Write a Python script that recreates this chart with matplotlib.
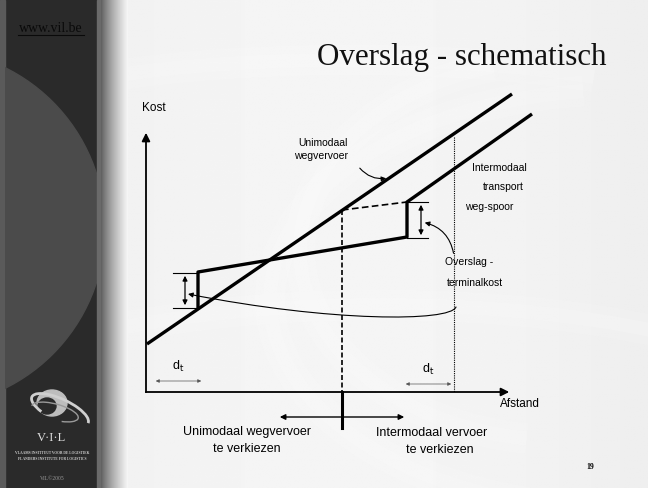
import matplotlib.pyplot as plt
import numpy as np
from matplotlib.patches import Rectangle, Ellipse, FancyArrowPatch, Arc
from matplotlib.path import Path

# schematic, in slide pixels (y downward)
uni_x = [147, 512]
uni_y = [344, 94]
inter_x = [198, 198, 407, 407, 532]
inter_y = [309, 272, 237, 202, 114]
dash_x = [342, 407]
dash_y = [210, 202]
split_x = 342
split_top = 210
dotted_x = 454
dotted_top = 137
axis_x0, axis_y0 = 146, 392
axis_x1, axis_y1 = 512, 130

sans = 'Liberation Sans'
serif = 'Liberation Serif'

fig = plt.figure(figsize=(6.48, 4.88), dpi=100)
fig.patch.set_facecolor('#efefef')
ax = fig.add_axes([0, 0, 1, 1])
ax.set_xlim(0, 648)
ax.set_ylim(488, 0)
ax.axis('off')

# background swooshes
grad = np.linspace(0, 1, 200)
bg = np.outer(np.ones(200), 0.93 + 0.03 * np.sin(grad * 3))
ax.imshow(bg, cmap='gray', vmin=0, vmax=1, extent=[0, 648, 488, 0], aspect='auto', zorder=0)
for cx, cy, w, h, a1, a2 in [(620, 300, 700, 420, 90, 260), (560, 250, 520, 380, 100, 250),
                             (380, 430, 900, 250, 180, 360), (350, 120, 700, 120, 190, 350)]:
    for lw, al in [(22, 0.12), (10, 0.15)]:
        ax.add_patch(Arc((cx, cy), w, h, theta1=a1, theta2=a2, color='white', lw=lw, alpha=al, zorder=1))

# sidebar
ax.add_patch(Rectangle((0, 0), 101, 488, color='#2a2a2a', zorder=2))
ax.add_patch(Rectangle((0, 0), 5, 488, color='#5a5a5a', zorder=3))
side = Rectangle((5, 0), 96, 488, transform=ax.transData)
ell = Ellipse((-75, 228), 360, 358, color='#4b4b4b', zorder=3)
ax.add_patch(ell)
ell.set_clip_path(side)
ax.add_patch(Rectangle((97, 0), 4, 488, color='#6a6a6a', zorder=4))
shade = np.tile(np.linspace(0.2, 0.94, 40) ** 0.6, (10, 1))
ax.imshow(shade, cmap='gray', vmin=0, vmax=1, extent=[101, 128, 488, 0], aspect='auto', zorder=4)

ax.text(51, 29, 'www.vil.be', family=serif, fontsize=10, color='#0a0a0a', ha='center', va='center', zorder=5)
ax.plot([18, 84], [35, 35], color='#0a0a0a', lw=0.8, zorder=5)

# logo
ax.add_patch(Ellipse((52, 403), 30, 26, color='#bdbdbd', zorder=5))
ax.add_patch(Ellipse((47, 406), 18, 16, color='#2a2a2a', zorder=5))
ax.add_patch(Arc((60, 410), 62, 22, angle=25, theta1=150, theta2=360, color='#cfcfcf', lw=2, zorder=6))
ax.add_patch(Arc((55, 412), 48, 16, angle=15, theta1=180, theta2=400, color='#9a9a9a', lw=1, zorder=6))
ax.text(51, 438, 'V·I·L', family=serif, fontsize=9, color='#e0e0e0', ha='center', va='center', zorder=6)
ax.text(52, 453, 'VLAAMS INSTITUUT VOOR DE LOGISTIEK', family=serif, fontsize=2.6, weight='bold',
        color='#d0d0d0', ha='center', va='center', zorder=6)
ax.text(52, 459, 'FLANDERS INSTITUTE FOR LOGISTICS', family=serif, fontsize=2.6, weight='bold',
        color='#d0d0d0', ha='center', va='center', zorder=6)
ax.text(52, 479, 'VIL©2005', family=serif, fontsize=4, color='#9a9a9a', ha='center', va='center', zorder=6)

# title
ax.text(462, 58, 'Overslag - schematisch', family=serif, fontsize=22.3, color='#111111',
        ha='center', va='center', zorder=6)

# axes
ax.plot([axis_x0, axis_x0], [axis_y0, axis_y1 + 8], color='black', lw=1.3, zorder=6)
ax.plot([axis_x0, axis_x1 - 6], [axis_y0, axis_y0], color='black', lw=1.3, zorder=6)
ax.add_patch(FancyArrowPatch((axis_x0, axis_y1 + 12), (axis_x0, axis_y1), arrowstyle='-|>',
                             mutation_scale=12, color='black', lw=1.3, zorder=6))
ax.add_patch(FancyArrowPatch((axis_x1 - 10, axis_y0), (axis_x1, axis_y0), arrowstyle='-|>',
                             mutation_scale=12, color='black', lw=1.3, zorder=6))
ax.text(142, 108, 'Kost', family=sans, fontsize=8.5, ha='left', va='center', zorder=6)
ax.text(500, 404, 'Afstand', family=sans, fontsize=8.5, ha='left', va='center', zorder=6)

# cost lines
ax.plot(uni_x, uni_y, color='black', lw=2.4, solid_capstyle='butt', zorder=7)
ax.plot(inter_x, inter_y, color='black', lw=2.4, solid_capstyle='butt', zorder=7)
ax.plot(dash_x, dash_y, color='black', lw=1.2, ls=(0, (4, 2)), zorder=7)
ax.plot([split_x, split_x], [split_top, axis_y0], color='black', lw=1.2, ls=(0, (3, 1.5)), zorder=7)
ax.plot([split_x, split_x], [axis_y0, 428], color='black', lw=2.2, zorder=7)
ax.plot([dotted_x, dotted_x], [dotted_top, axis_y0], color='black', lw=0.8, ls=(0, (1, 1)), zorder=7)

# terminal cost double arrows
for xa, xt0, xt1, y0, y1 in [(185, 173, 198, 273, 308), (421, 407, 428, 202, 238)]:
    ax.plot([xt0, xt1], [y0, y0], color='black', lw=0.8, zorder=7)
    ax.plot([xt0, xt1], [y1, y1], color='black', lw=0.8, zorder=7)
    ax.add_patch(FancyArrowPatch((xa, y0), (xa, y1), arrowstyle='<|-|>', mutation_scale=7,
                                 color='black', lw=0.9, zorder=7))

# callouts
ax.text(323, 143, 'Unimodaal', family=sans, fontsize=7.5, ha='center', va='center', zorder=7)
ax.text(321, 156, 'wegvervoer', family=sans, fontsize=7.5, ha='center', va='center', zorder=7)
ax.add_patch(FancyArrowPatch((358, 166), (389, 178), connectionstyle='arc3,rad=0.3', arrowstyle='-|>',
                             mutation_scale=7, color='black', lw=0.8, zorder=7))
ax.text(472, 168, 'Intermodaal', family=sans, fontsize=7.5, ha='left', va='center', zorder=7)
ax.text(483, 187, 'transport', family=sans, fontsize=7.5, ha='left', va='center', zorder=7)
ax.text(465, 207, 'weg-spoor', family=sans, fontsize=7.5, ha='left', va='center', zorder=7)
ax.text(445, 262, 'Overslag -', family=sans, fontsize=7.5, ha='left', va='center', zorder=7)
ax.text(447, 283, 'terminalkost', family=sans, fontsize=7.5, ha='left', va='center', zorder=7)
ax.add_patch(FancyArrowPatch((454, 256), (422, 222), connectionstyle='arc3,rad=0.35', arrowstyle='-|>',
                             mutation_scale=7, color='black', lw=0.8, zorder=7))
curve = Path([(456, 307), (450, 322), (330, 322), (188, 294)],
             [Path.MOVETO, Path.CURVE4, Path.CURVE4, Path.CURVE4])
ax.add_patch(FancyArrowPatch(path=curve, arrowstyle='-|>', mutation_scale=7, color='black', lw=0.8, zorder=7))

# d_t
ax.text(172, 366, r'd$_\mathrm{t}$', family=sans, fontsize=9, ha='left', va='center', zorder=7)
ax.text(422, 369, r'd$_\mathrm{t}$', family=sans, fontsize=9, ha='left', va='center', zorder=7)
for x0, x1, y in [(153, 204, 381), (403, 454, 384)]:
    ax.add_patch(FancyArrowPatch((x0, y), (x1, y), arrowstyle='<|-|>', mutation_scale=5,
                                 color='#555555', lw=0.5, zorder=7))

# preference arrows
ax.add_patch(FancyArrowPatch((277, 417), (407, 417), arrowstyle='<|-|>', mutation_scale=8,
                             color='black', lw=1.0, zorder=7))
ax.text(247, 432, 'Unimodaal wegvervoer', family=sans, fontsize=9, ha='center', va='center', zorder=7)
ax.text(247, 449, 'te verkiezen', family=sans, fontsize=9, ha='center', va='center', zorder=7)
ax.text(432, 433, 'Intermodaal vervoer', family=sans, fontsize=9, ha='center', va='center', zorder=7)
ax.text(440, 450, 'te verkiezen', family=sans, fontsize=9, ha='center', va='center', zorder=7)

ax.text(590, 467, '19', family=serif, fontsize=5.5, weight='bold', ha='center', va='center', zorder=7)

fig.savefig('out.png', dpi=100, facecolor=fig.get_facecolor())
